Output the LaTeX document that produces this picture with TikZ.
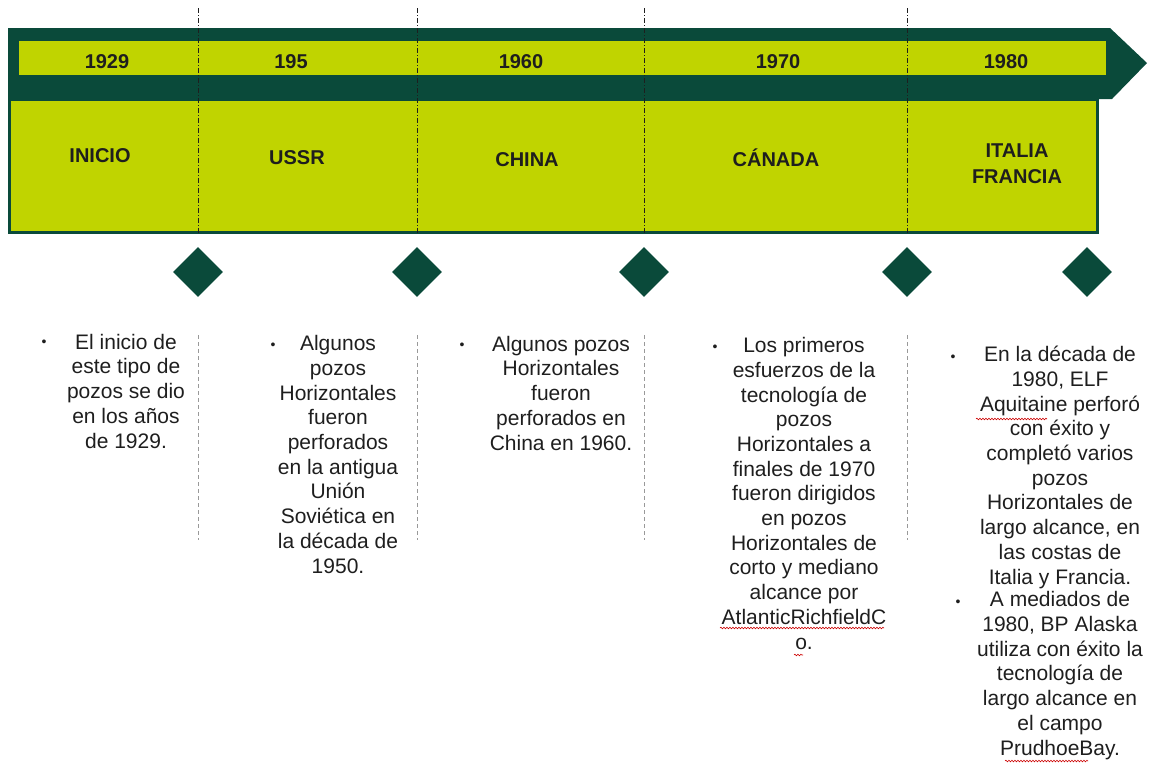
\documentclass[tikz,border=0pt]{standalone}
\usepackage{fontspec}
\setmainfont{Liberation Sans}
\usetikzlibrary{shapes.geometric, decorations.pathmorphing}

\definecolor{lima}{RGB}{192,212,0}
\definecolor{pino}{RGB}{10,74,58}
\definecolor{tinta}{RGB}{30,30,30}

\tikzset{
  anio/.style={font=\bfseries\fontsize{20}{24}\selectfont, text=tinta},
  pais/.style={font=\bfseries\fontsize{20}{26}\selectfont, text=tinta, align=center},
  rombo/.style={diamond, fill=pino, inner sep=0pt, minimum width=50pt, minimum height=50pt},
  % anchor=base queda en la linea final
  nota/.style={font=\fontsize{21}{24.7}\selectfont, text=tinta, align=center, anchor=base, inner sep=0pt},
  vineta/.style={font=\fontsize{14}{14}\selectfont, text=tinta, inner sep=0pt},
  guia/.style={dash pattern=on 5pt off 2pt on 1pt off 2pt, line width=0.8pt, tinta},
  guiab/.style={dash pattern=on 4pt off 3pt, line width=0.6pt, black!40},
  ondas/.style={red!80!black, line width=0.6pt, decorate,
    decoration={snake, amplitude=0.8pt, segment length=3pt}}
}

\begin{document}
\begin{tikzpicture}[x=1pt, y=-1pt]
  \useasboundingbox (0,0) rectangle (1149,764);

  % banda de la flecha
  \fill[pino] (8,28) -- (1110,28) -- (1147,63) -- (1112,99) -- (8,99) -- cycle;
  \fill[lima] (19,41) rectangle (1106,75);
  \draw[pino, line width=3pt, fill=lima] (9.5,99) rectangle (1097.5,232);

  \foreach \x in {198,417,644,907} {
    \draw[guia] (\x,8) -- (\x,233);
    \draw[guiab] (\x,335) -- (\x,540);
  }

  \foreach \x/\n in {198/1, 417/2, 644/3, 907/4, 1087/5}
    \node[rombo] (r\n) at (\x,272) {};

  % anios
  \node[anio] (a1929) at (107,62) {1929};
  \node[anio] (a195)  at (291,62) {195};
  \node[anio] (a1960) at (521,62) {1960};
  \node[anio] (a1970) at (778,62) {1970};
  \node[anio] (a1980) at (1006,62) {1980};

  % paises
  \node[pais] (inicio) at (100,156) {INICIO};
  \node[pais] (ussr)   at (297,158) {USSR};
  \node[pais] (china)  at (527,160) {CHINA};
  \node[pais] (canada) at (776,158) {CÁNADA};
  \node[pais] (italia) at (1017,164) {ITALIA\\FRANCIA};

  % notas
  \node[vineta] (v1) at (44,343) {•};
  \node[nota] (n1) at (126,448) {El inicio de\\este tipo de\\pozos se dio\\en los años\\de 1929.};

  \node[vineta] (v2) at (273,346) {•};
  \node[nota] (n2) at (338,573) {Algunos\\pozos\\Horizontales\\fueron\\perforados\\en la antigua\\Unión\\Soviética en\\la década de\\1950.};

  \node[vineta] (v3) at (462,346) {•};
  \node[nota] (n3) at (561,450) {Algunos pozos\\Horizontales\\fueron\\perforados en\\China en 1960.};

  \node[vineta] (v4) at (715,348) {•};
  \node[nota] (n4) at (804,649) {Los primeros\\esfuerzos de la\\tecnología de\\pozos\\Horizontales a\\finales de 1970\\fueron dirigidos\\en pozos\\Horizontales de\\corto y mediano\\alcance por\\AtlanticRichfieldC\\o.};

  \node[vineta] (v5) at (953,358) {•};
  \node[nota] (n5) at (1060,584) {En la década de\\1980, ELF\\Aquitaine perforó\\con éxito y\\completó varios\\pozos\\Horizontales de\\largo alcance, en\\las costas de\\Italia y Francia.};
  \node[vineta] (v6) at (958,603) {•};
  \node[nota] (n6) at (1060,755) {A mediados de\\1980, BP Alaska\\utiliza con éxito la\\tecnología de\\largo alcance en\\el campo\\PrudhoeBay.};

  % subrayado del corrector
  \draw[ondas] (976,419) -- (1047,419);
  \draw[ondas] (720,628) -- (884,628);
  \draw[ondas] (794,655) -- (803,655);
  \draw[ondas] (1005,761) -- (1088,761);
\end{tikzpicture}
\end{document}
